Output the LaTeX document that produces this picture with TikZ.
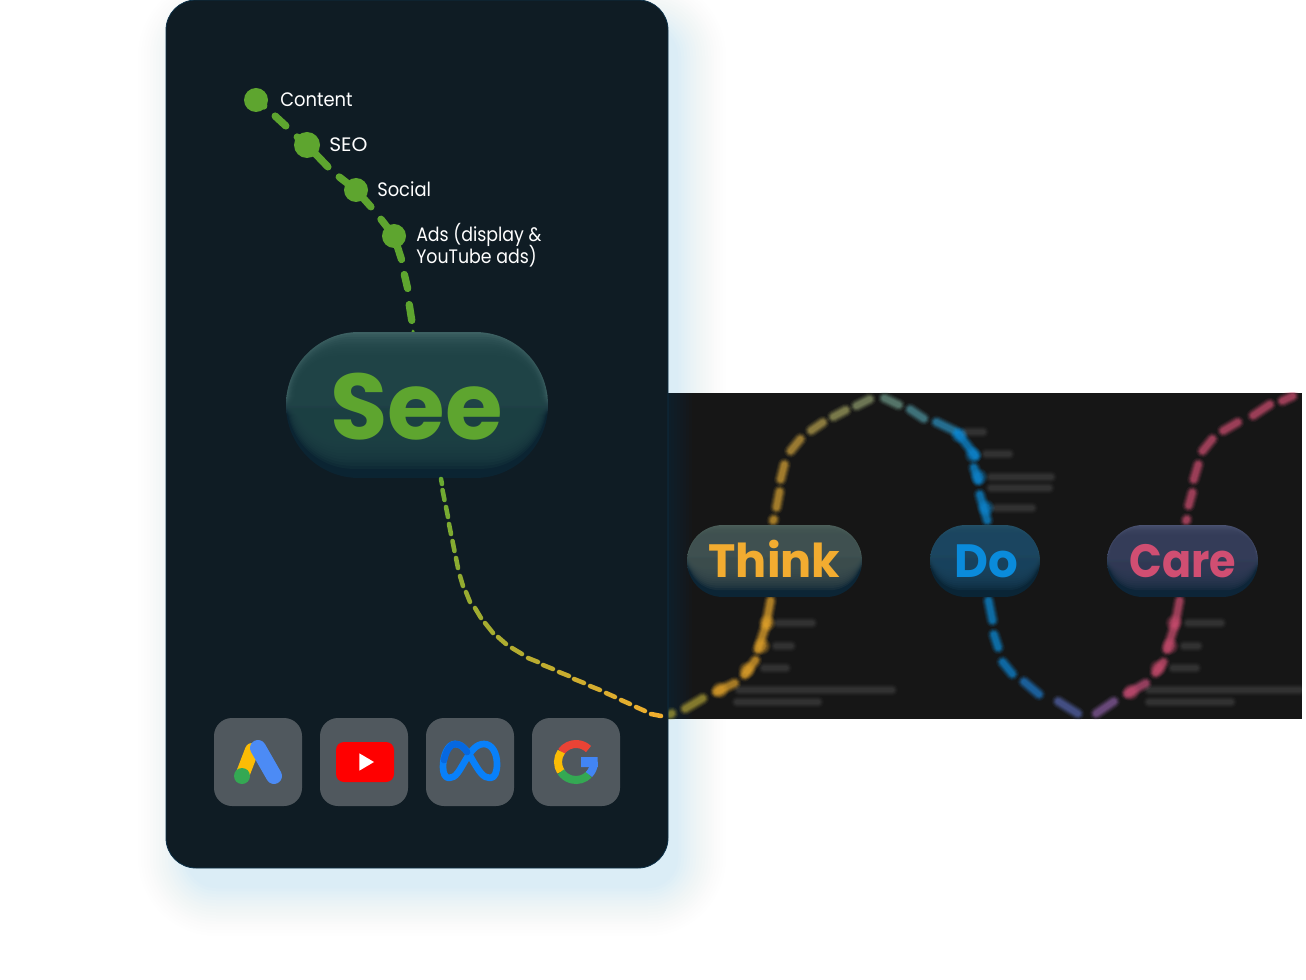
\documentclass[tikz,border=0pt]{standalone}
\usepackage{fontspec}
\setmainfont{Poppins}
\newfontfamily\lblfont[FakeStretch=0.92]{Poppins}
\usetikzlibrary{calc}
\definecolor{cardc}{HTML}{0F1C24}
\definecolor{cardedge}{HTML}{0D3148}
\definecolor{bandc}{HTML}{161616}
\definecolor{shadowc}{HTML}{A4D6F6}
\definecolor{greenc}{HTML}{5EA52F}
\definecolor{tilec}{HTML}{50585E}
\definecolor{thinkc}{HTML}{F2AC30}
\definecolor{doc}{HTML}{0A8BDB}
\definecolor{carec}{HTML}{D04E72}
\definecolor{dashstart}{HTML}{6AAA32}
\definecolor{dashend}{HTML}{F0AE2E}
\definecolor{gblue}{HTML}{4285F4}
\definecolor{gred}{HTML}{EA4335}
\definecolor{gyellow}{HTML}{FBBC05}
\definecolor{ggreen}{HTML}{34A853}
\definecolor{adsblue}{HTML}{4C8BF5}
\definecolor{metaa}{HTML}{0880FA}
\definecolor{metab}{HTML}{0668E1}
\tikzset{
  tile/.style={rectangle,rounded corners=13.5pt,fill=tilec,minimum size=66pt,inner sep=0pt},
  gdot/.style={circle,fill=greenc,inner sep=0pt,minimum size=#1*0.75pt},
  gline/.style={draw=greenc,line width=5.5pt,line cap=round,shorten >=1.2pt,shorten <=1.2pt},
  lbl/.style={text=white,font=\lblfont\fontsize{14.6pt}{16.5pt}\selectfont,inner sep=0pt,anchor=base west},
  pilltext/.style={font=\fontsize{35pt}{36pt}\selectfont\bfseries,inner sep=0pt,anchor=base}
}
\newcommand{\blurseg}[5]{%
  \foreach \wd/\op in {10/.1,8.5/.14,7/.18,5.7/.22,4.5/.25,3.2/.25}{%
    \draw[#5,line width=\wd pt,line cap=round,opacity=\op] ($(#1,#2)!2pt!(#3,#4)$) -- ($(#3,#4)!2pt!(#1,#2)$);}}
\newcommand{\blurblob}[3]{%
  \foreach \rd/\op in {9/.08,8/.1,7/.12,6/.14,5/.16,4/.18}{%
    \fill[#3,opacity=\op] (#1,#2) circle[radius=\rd];}}
\newcommand{\smear}[3]{%
  \foreach \wd/\op in {9/.018,7.5/.022,6/.026,4.5/.03,3/.03}{%
    \draw[white,line width=\wd pt,line cap=round,opacity=\op] (#1,#3) -- (#2,#3);}}
% pill: x0 y0 x1 y1 top base bottom (HTML colours)
\newcommand{\pillshape}[7]{%
  \begin{scope}
    \definecolor{ptop}{HTML}{#5}\definecolor{pbase}{HTML}{#6}\definecolor{pbot}{HTML}{#7}
    \pgfmathsetmacro{\hh}{#4-#2}
    \pgfmathsetmacro{\rr}{\hh/2*0.75}
    \pgfmathsetmacro{\fc}{\hh/146}
    \pgfmathsetmacro{\fb}{\fc+(1-\fc)*0.5}
    \pgfmathsetmacro{\mm}{(#2+#4)/2}
    \path[clip,rounded corners=\rr pt] (#1,#2) rectangle (#3,#4);
    \fill[ptop] (#1,#2) rectangle (#3,{\mm-9});
    \fill[pbot] (#1,{\mm+9}) rectangle (#3,#4);
    \shade[top color=ptop,bottom color=pbot] (#1,{\mm-9.5}) rectangle (#3,{\mm+9.5});
    \foreach \ii in {1,...,12}{%
      \pgfmathsetmacro{\ti}{\ii*2.4*\fc}
      \pgfmathsetmacro{\bi}{(6+\ii*3.1)*\fb}
      \pgfmathsetmacro{\si}{\ii*0.9*\fc}
      \pgfmathsetmacro{\ri}{(\hh-\ti-\bi)/2*0.75}
      \fill[pbase,opacity=.23,rounded corners=\ri pt] ({#1+\si},{#2+\ti}) rectangle ({#3-\si},{#4-\bi});
    }
  \end{scope}}
\begin{document}
\begin{tikzpicture}[x=0.75pt,y=-0.75pt]
\useasboundingbox (0,0) rectangle (1306,980);
\fill[white] (0,0) rectangle (1306,980);
% card shadow
\foreach \e in {48,45,42,39,36,33,30,27,24,21,18,15,12,9,6,3,0}{%
  \pgfmathsetmacro{\rc}{(30+\e)*.75}
  \pgfmathsetmacro{\oc}{0.002+0.0008*(48-\e)}
  \fill[shadowc,opacity=\oc,rounded corners=\rc pt] ({186-\e},{26-\e}) rectangle ({678+\e},{888+\e});
}
% blurred band
\fill[bandc] (668,393) rectangle (1302,719);
\foreach \e in {0,3,...,24}{%
  \fill[cardedge,opacity=.07] (668,393) rectangle ({692-\e},719);
}
\begin{scope}
\clip (668,393) rectangle (1302,719);
\foreach \xa/\ya/\xb/\yb/\cc in {
 668/716/674/712/A8A035,683/710/705/697/B0A038,714/693/737/682/DDA22C,743/677/757/658/E8A62C,
 757/652/766/625/EAA92D,766/625/771/598/E8A82E,772/523/775/517/D9A230,776/510/780/489/D9A434,
 780/482/785/462/D6A438,789/453/802/437/CDA23E,809/432/825/421/B8A150,831/418/848/409/A2A060,
 854/407/872/398/8F9C6E,882/397/901/406/6E9A8A,908/408/926/420/4F95A0,934/421/957/432/2D90C0,
 957/432/977/458/0D8DDB,973/465/979/483/0D8DDB,979/492/988/523/0D8DDB,988/598/993/623/0D8DDB,
 993/632/999/650/0D8DDB,1001/660/1014/676/0E88D8,1022/680/1041/696/1F7CCB,1056/700/1080/715/5565AD,
 1094/715/1116/700/8A5DA0,1125/695/1148/682/C5507A,1154/675/1165/660/CF4F72,1166/652/1175/625/CF4F72,
 1175/625/1180/598/CF4F72,1185/523/1188/517/CF4F72,1188/508/1193/490/CF4F72,1193/482/1199/462/CF4F72,
 1201/453/1214/437/CF4F72,1221/432/1240/421/CF4F72,1251/417/1272/403/CF4F72,1280/402/1295/395/CF4F72}{%
  \definecolor{segc}{HTML}{\cc}
  \blurseg{\xa}{\ya}{\xb}{\yb}{segc}
}
\foreach \xa/\ya/\cc in {720/690/E8A62C,747/670/EAA92D,762/646/EAA92D,767/623/EAA92D,
 959/435/0D8DDB,973/455/0D8DDB,979/477/0D8DDB,986/508/0D8DDB,
 1131/692/CF4F72,1158/668/CF4F72,1170/646/CF4F72,1174/623/CF4F72}{%
  \definecolor{segc}{HTML}{\cc}
  \blurblob{\xa}{\ya}{segc}
}
\foreach \xa/\xb/\ya in {966/983/432,986/1009/454,991/1051/477,991/1049/488,996/1032/508,
 778/812/623,776/791/646,764/786/668,739/892/690,737/818/702,
 1188/1221/623,1184/1198/646,1173/1196/668,1149/1300/690,1149/1231/702}{%
  \smear{\xa}{\xb}{\ya}
}
\end{scope}
% stage pills in the band
\pillshape{687}{525}{862}{597}{4C5F5A}{3F5050}{0C2535}
\pillshape{930}{525}{1040}{597}{245066}{1B4560}{0A2536}
\pillshape{1107}{525}{1258}{597}{4A5270}{343C58}{0D2538}
\node[pilltext,text=thinkc] (think) at (774.5,577) {\scalebox{.99}[1]{Think}};
\node[pilltext,text=doc] (do) at (986,577) {Do};
\node[pilltext,text=carec] (care) at (1183,577) {\scalebox{.92}[1]{Care}};
% card
\filldraw[fill=cardc,draw=cardedge,line width=.6pt,rounded corners=22.5pt] (166,0) rectangle (668,868);
% green path with dots
\node[gdot=24] (d1) at (256,100) {};
\node[gdot=26] (d2) at (307,145) {};
\node[gdot=24] (d3) at (356,190) {};
\node[gdot=24] (d4) at (394,236) {};
\coordinate (e1) at (265,107);
\coordinate (e2a) at (274,115); \coordinate (e2b) at (287,127);
\coordinate (e3) at (296,136);
\coordinate (e4) at (329,168);
\coordinate (e5) at (338,176);
\coordinate (e6) at (372,208);
\coordinate (e7) at (380,218);
\coordinate (e8) at (402,261);
\coordinate (e9a) at (404,273); \coordinate (e9b) at (408,290);
\coordinate (e10a) at (409,303); \coordinate (e10b) at (412,322);
\draw[gline] (d1.center) -- (e1);
\draw[gline] (e2a) -- (e2b);
\draw[gline] (e3) -- (d2.center) -- (e4);
\draw[gline] (e5) -- (d3.center) -- (e6);
\draw[gline] (e7) -- (d4.center) -- (e8);
\draw[gline] (e9a) -- (e9b);
\draw[gline] (e10a) -- (e10b);
\node[lbl] (l1) at (280,107) {Content};
\node[lbl] (l2) at (329,152) {\scalebox{1.13}[1]{SEO}};
\node[lbl] (l3) at (377,197) {Social};
\node[lbl] (l4) at (416,242) {\scalebox{.97}[1]{Ads (display \&}};
\node[lbl] (l5) at (416,264) {\scalebox{.97}[1]{YouTube ads)}};
% See pill
\draw[greenc,line width=2.2pt,line cap=round] (413,331) -- (414,345);
\pillshape{286}{332}{548}{478}{3C6062}{1F4346}{0B2432}
\node[font=\fontsize{70pt}{70pt}\selectfont\bfseries,inner sep=0pt,anchor=base,text=greenc] (see) at (416.5,439) {See};
% dashed link from See to the band
\coordinate (seeout) at (441,479);
\coordinate (bandin) at (661,716);
\foreach \xa/\ya/\xb/\yb [count=\nn from 0] in {
 442.5/490/444.5/500,446/507/448/517,449/524/451/534,452.5/541/454.5/551,456/558/458/568,
 460/576/463/586,466/592/470/602,475/608/481/618,485/623/493/633,498/637/506/644,512/648/522/654,
 528/658/538/662,543/665/553/669,559/672/569/676,574/679/584/683,590/686/600/690,606/693/615/697,
 621/700/630/704,636/707/645/711}{%
  \pgfmathsetmacro{\pc}{(\nn+1)*100/20}
  \draw[dashend!\pc!dashstart,line width=3.4pt,line cap=round] (\xa,\ya) -- (\xb,\yb);
}
\draw[dashstart,line width=3.4pt,line cap=round] (seeout) -- (442,484);
\draw[dashend,line width=3.4pt,line cap=round] (651,714) -- (bandin);
% icon tiles
\node[tile] (t1) at (258,762) {};
\node[tile] (t2) at (364,762) {};
\node[tile] (t3) at (470,762) {};
\node[tile] (t4) at (576,762) {};
% Google Ads
\draw[gyellow,line width=10.5pt,line cap=round] (252,750) -- (242,776);
\fill[ggreen] (242,776) circle[radius=8];
\draw[adsblue,line width=12pt,line cap=round] (258,748) -- (274,776);
% YouTube
\fill[red,rounded corners=6pt] (336,742) rectangle (394,782);
\fill[white] (359.3,753.3) -- (374,762) -- (359.3,770.7) -- cycle;
% Meta
\draw[metaa,line width=5pt,line cap=round,line join=round]
  (455,744) .. controls (463,744) and (468,752) .. (473,761)
  .. controls (479,771) and (483,778) .. (490,778)
  .. controls (495,778) and (497,772) .. (497,764)
  .. controls (497,753) and (492,744) .. (484,744)
  .. controls (476,744) and (471,751) .. (465,761)
  .. controls (459,771) and (456,778) .. (449,778)
  .. controls (445,778) and (443,773) .. (443,767)
  .. controls (443,755) and (448,744) .. (455,744) -- cycle;
\draw[metab,line width=5pt,line cap=round]
  (444,760) .. controls (446,751) and (450,744) .. (455,744)
  .. controls (460,744) and (464,747) .. (467,752);
% Google G
\coordinate (gc) at (576,762);
\draw[gred,line width=6pt] (gc) ++(-145:18) arc[start angle=-145,end angle=-46,radius=18];
\draw[gyellow,line width=6pt] (gc) ++(147:18) arc[start angle=147,end angle=215,radius=18];
\draw[ggreen,line width=6pt] (gc) ++(44:18) arc[start angle=44,end angle=147,radius=18];
\draw[gblue,line width=6pt] (gc) ++(0:18) arc[start angle=0,end angle=44,radius=18];
\fill[gblue] (581,757) -- (597.5,757) -- (598,767) -- (581,767) -- cycle;
\end{tikzpicture}
\end{document}
